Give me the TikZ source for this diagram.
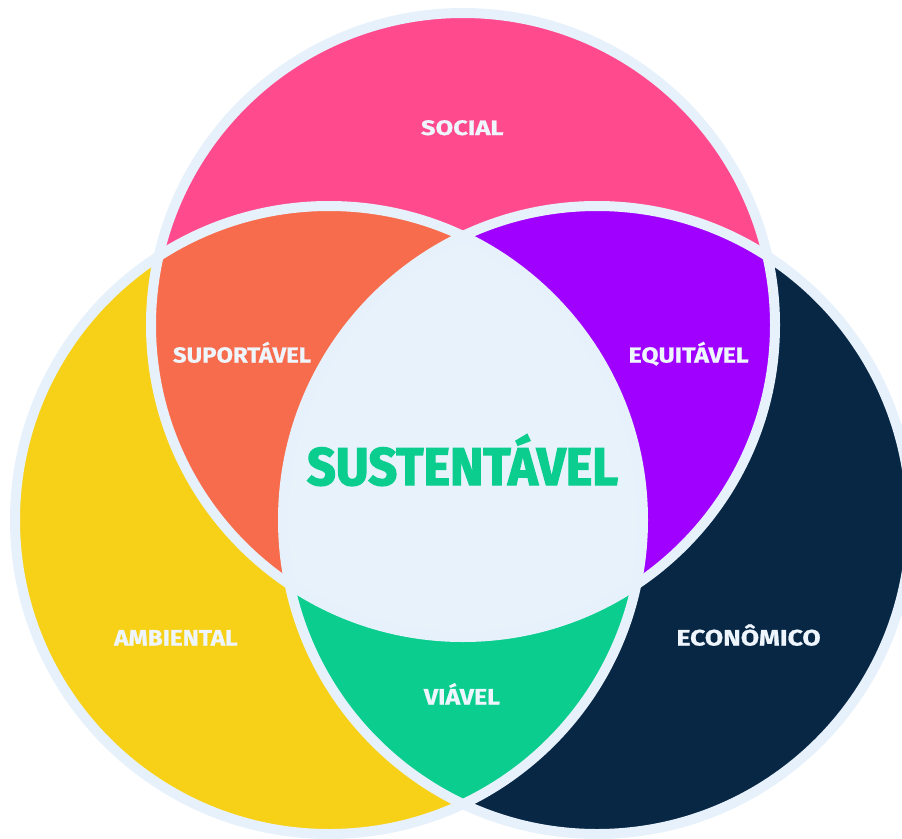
\documentclass[tikz,border=0pt]{standalone}
\usepackage{fontspec}
\setmainfont{Fira Sans}[BoldFeatures={FakeBold=0.8}]
\newfontfamily\heavyfont{Fira Sans}[BoldFeatures={FakeBold=2.6}]
\usepackage{graphicx}
\definecolor{pinkc}{HTML}{FF4B8E}
\definecolor{orangec}{HTML}{F66C4D}
\definecolor{purplec}{HTML}{9F00FF}
\definecolor{yellowc}{HTML}{F7D118}
\definecolor{navyc}{HTML}{082744}
\definecolor{greenc}{HTML}{0ACD8E}
\definecolor{centerc}{HTML}{E8F2FB}
\definecolor{ringc}{HTML}{E6F1FB}
\definecolor{labc}{HTML}{EEF5FC}
\newlength\lw \newlength\lh
\newcommand\fitlab[3]{\settowidth\lw{#3}\settoheight\lh{H}%
  \edef\sx{\fpeval{#1/\lw}}\edef\sy{\fpeval{#2/\lh}}%
  \scalebox{\sx}[\sy]{#3}}
\tikzset{
  ring/.style={draw=ringc,line width=10pt},
  lab/.style={inner sep=0pt,outer sep=0pt,anchor=base west,text=labc,font=\bfseries},
  biglab/.style={inner sep=0pt,outer sep=0pt,anchor=base west,text=greenc,font=\heavyfont\bfseries}
}
\begin{document}
\begin{tikzpicture}[x=1pt,y=-1pt]
\useasboundingbox (0,0) rectangle (902,838);
\clip (0,0) rectangle (902,838);
\coordinate (T) at (463,325);
\coordinate (L) at (329,520);
\coordinate (R) at (597,520);
\def\rT{312pt}
\def\rS{314pt}
% base circles
\fill[pinkc] (T) circle[radius=\rT];
\fill[yellowc] (L) circle[radius=\rS];
\fill[navyc] (R) circle[radius=\rS];
% pairwise intersections
\begin{scope}
  \clip (T) circle[radius=\rT];
  \fill[orangec] (L) circle[radius=\rS];
  \fill[purplec] (R) circle[radius=\rS];
\end{scope}
\begin{scope}
  \clip (L) circle[radius=\rS];
  \fill[greenc] (R) circle[radius=\rS];
\end{scope}
% triple intersection
\begin{scope}
  \clip (T) circle[radius=\rT];
  \clip (L) circle[radius=\rS];
  \fill[centerc] (R) circle[radius=\rS];
\end{scope}
% outlines
\draw[ring] (T) circle[radius=\rT];
\draw[ring] (L) circle[radius=\rS];
\draw[ring] (R) circle[radius=\rS];
% labels
\node[lab] (social) at (421,135) {\fitlab{82.5pt}{14.5pt}{SOCIAL}};
\node[lab] (suport) at (173,362.5) {\fitlab{138pt}{15pt}{SUPORTÁVEL}};
\node[lab] (equit) at (628.6,362.5) {\fitlab{120pt}{15pt}{EQUITÁVEL}};
\node[lab] (ambient) at (114.2,645.5) {\fitlab{123.4pt}{15.5pt}{AMBIENTAL}};
\node[lab] (econ) at (676.5,645.5) {\fitlab{144.2pt}{15.5pt}{ECONÔMICO}};
\node[lab] (viavel) at (423.9,704.5) {\fitlab{76pt}{15.5pt}{VIÁVEL}};
\node[biglab] (sust) at (307,485) {\fitlab{311pt}{36.7pt}{SUSTENTÁVEL}};
\end{tikzpicture}
\end{document}
